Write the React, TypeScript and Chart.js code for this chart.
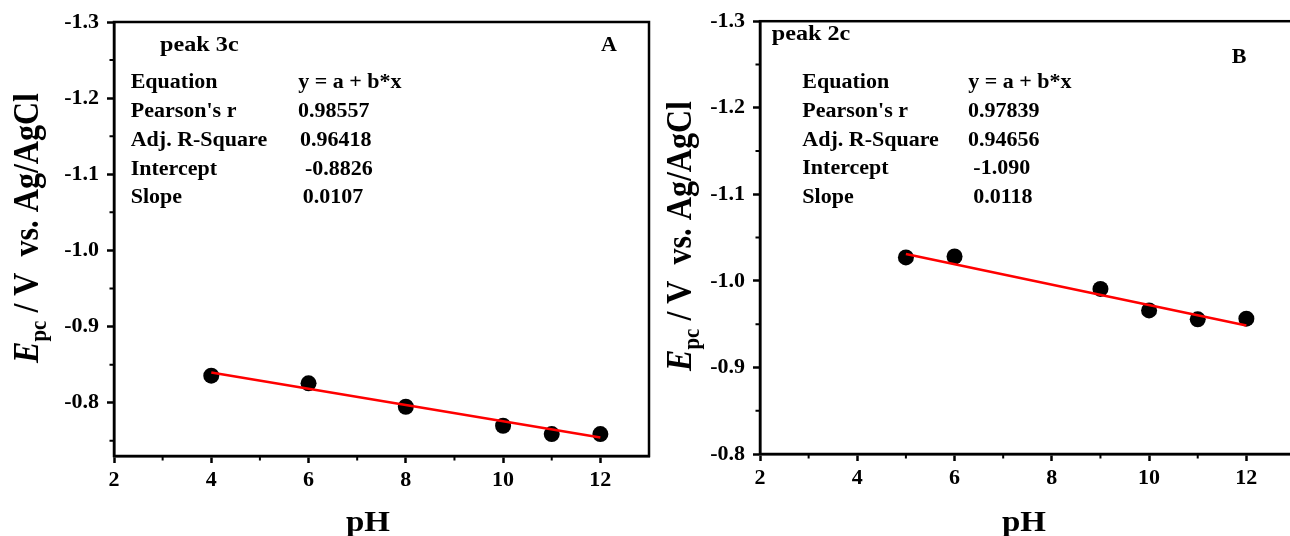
import React, { useEffect, useRef } from "react";
import { Chart, registerables } from "chart.js";

Chart.register(...registerables);

// Peak 3c (panel A): pH vs. cathodic peak potential
const phA = [4, 6, 8, 10, 11, 12];
const epcA = [-0.8355, -0.8254, -0.7947, -0.7697, -0.7588, -0.7588];
const interceptA = -0.8826;
const slopeA = 0.0107;
const fitSpanA = [4, 12];
const pearsonA = "0.98557";
const adjR2A = "0.96418";

// Peak 2c (panel B)
const phB = [5, 6, 9, 10, 11, 12];
const epcB = [-1.0271, -1.0282, -0.9907, -0.9659, -0.9556, -0.9563];
const interceptB = -1.09;
const slopeB = 0.0118;
const fitSpanB = [5, 12];
const pearsonB = "0.97839";
const adjR2B = "0.94656";

// Axis ticks
const xMajorTicks = [2, 4, 6, 8, 10, 12];
const xMinorTicks = [3, 5, 7, 9, 11];
const yMajorTicks = [-1.3, -1.2, -1.1, -1.0, -0.9, -0.8];
const yMinorTicks = [-1.25, -1.15, -1.05, -0.95, -0.85, -0.75];

const statNames = ["Equation", "Pearson's r", "Adj. R-Square", "Intercept", "Slope"];
const equationText = "y = a + b*x";

const FONT = '"Liberation Serif", "Times New Roman", serif';
const STRETCH = 1.1;
const CANVAS_H = 536;

type Txt = { text: string; x: number; y: number; size: number; align?: CanvasTextAlign };

function drawText(ctx: CanvasRenderingContext2D, t: Txt) {
  ctx.save();
  ctx.font = `bold ${t.size}px ${FONT}`;
  ctx.fillStyle = "#000";
  ctx.textAlign = t.align || "left";
  ctx.textBaseline = "alphabetic";
  ctx.translate(t.x, t.y);
  ctx.scale(STRETCH, 1);
  ctx.fillText(t.text, 0, 0);
  ctx.restore();
}

function drawYTitle(ctx: CanvasRenderingContext2D, bx: number, cy: number, size: number) {
  ctx.save();
  ctx.translate(bx, cy);
  ctx.rotate(-Math.PI / 2);
  ctx.scale(1, STRETCH);
  ctx.fillStyle = "#000";
  ctx.textBaseline = "alphabetic";
  ctx.textAlign = "left";
  const parts: [string, string, number][] = [
    ["E", `italic bold ${size}px ${FONT}`, 0],
    ["pc", `bold ${Math.round(size * 0.66)}px ${FONT}`, size * 0.24],
    [" / V  vs. Ag/AgCl", `bold ${size}px ${FONT}`, 0],
  ];
  let total = 0;
  const widths = parts.map(([t, f]) => {
    ctx.font = f;
    const w = ctx.measureText(t).width;
    total += w;
    return w;
  });
  let x = -total / 2;
  parts.forEach(([t, f, dy], i) => {
    ctx.font = f;
    ctx.fillText(t, x, dy);
    x += widths[i];
  });
  ctx.restore();
}

type PanelProps = {
  left: number;
  width: number;
  area: { left: number; top: number; right: number; bottom: number };
  yMax: number;
  ph: number[];
  epc: number[];
  intercept: number;
  slope: number;
  fitSpan: number[];
  texts: Txt[];
  yTitle: { x: number; y: number };
  xTitle: { x: number; y: number };
};

function Panel(p: PanelProps) {
  const ref = useRef<HTMLCanvasElement | null>(null);

  useEffect(() => {
    if (!ref.current) return;
    const W = p.width;
    const tickFont = { family: FONT, size: 22, weight: "bold" as const };

    const deco = {
      id: "panelDeco",
      afterDraw(chart: any) {
        const ctx: CanvasRenderingContext2D = chart.ctx;
        const { left, top, right, bottom } = chart.chartArea;
        const xs = chart.scales.x;
        const ys = chart.scales.y;
        ctx.save();
        ctx.strokeStyle = "#000";
        ctx.lineWidth = 2.5;
        ctx.strokeRect(left, top, right - left, bottom - top);
        ctx.lineWidth = 2;
        ctx.beginPath();
        xMinorTicks.forEach((v) => {
          const px = xs.getPixelForValue(v);
          ctx.moveTo(px, bottom);
          ctx.lineTo(px, bottom + 4.5);
        });
        yMinorTicks.forEach((v) => {
          if (v < ys.min || v > ys.max) return;
          const py = ys.getPixelForValue(v);
          ctx.moveTo(left, py);
          ctx.lineTo(left - 4.5, py);
        });
        ctx.stroke();
        ctx.restore();

        p.texts.forEach((t) => drawText(ctx, t));
        drawYTitle(ctx, p.yTitle.x, p.yTitle.y, 32);
        drawText(ctx, { text: "pH", x: p.xTitle.x, y: p.xTitle.y, size: 30, align: "center" });
      },
    };

    const fitData = p.fitSpan.map((x) => ({ x, y: p.intercept + p.slope * x }));
    const pts = p.ph.map((x, i) => ({ x, y: p.epc[i] }));

    const chart = new Chart(ref.current, {
      type: "scatter",
      data: {
        datasets: [
          {
            type: "line",
            data: fitData,
            borderColor: "#ff0000",
            borderWidth: 2.5,
            pointRadius: 0,
            fill: false,
            order: 0,
          } as any,
          {
            data: pts,
            backgroundColor: "#000",
            borderWidth: 0,
            pointRadius: 8,
            pointHoverRadius: 8,
            order: 1,
          },
        ],
      },
      options: {
        responsive: false,
        animation: false,
        events: [],
        layout: { padding: { left: 0, top: p.area.top, right: W - p.area.right, bottom: 0 } },
        plugins: { legend: { display: false }, tooltip: { enabled: false } },
        scales: {
          x: {
            type: "linear",
            min: 2,
            max: 13,
            afterFit: (s: any) => {
              s.height = CANVAS_H - p.area.bottom;
            },
            afterBuildTicks: (s: any) => {
              s.ticks = xMajorTicks.map((v) => ({ value: v }));
            },
            grid: {
              display: true,
              drawOnChartArea: false,
              drawTicks: true,
              tickLength: 7,
              tickWidth: 2.5,
              tickColor: "#000",
            },
            border: { display: true, width: 2.5, color: "#000" },
            ticks: {
              color: "#000",
              font: tickFont,
              padding: 4,
              autoSkip: false,
              maxRotation: 0,
              callback: (v: any) => String(v),
            },
          },
          y: {
            type: "linear",
            reverse: true,
            min: -1.3,
            max: p.yMax,
            afterFit: (s: any) => {
              s.width = p.area.left;
            },
            afterBuildTicks: (s: any) => {
              s.ticks = yMajorTicks.filter((v) => v <= p.yMax + 1e-9).map((v) => ({ value: v }));
            },
            grid: {
              display: true,
              drawOnChartArea: false,
              drawTicks: true,
              tickLength: 7,
              tickWidth: 2.5,
              tickColor: "#000",
            },
            border: { display: true, width: 2.5, color: "#000" },
            ticks: {
              color: "#000",
              font: tickFont,
              padding: 8,
              autoSkip: false,
              callback: (v: any) => Number(v).toFixed(1),
            },
          },
        },
      },
      plugins: [deco],
    });
    return () => chart.destroy();
  }, []);

  return (
    <canvas
      ref={ref}
      width={p.width}
      height={CANVAS_H}
      style={{ position: "absolute", left: p.left, top: 0, width: p.width, height: CANVAS_H }}
    />
  );
}

function statValues(pearson: string, adj: string, intercept: number, icDigits: number, slope: number) {
  return [equationText, pearson, adj, intercept.toFixed(icDigits), slope.toFixed(4)];
}

export default function App() {
  const valsA = statValues(pearsonA, adjR2A, interceptA, 4, slopeA);
  const valsB = statValues(pearsonB, adjR2B, interceptB, 3, slopeB);

  const rowsA = [88.3, 116.7, 146, 175, 203.3];
  const valXA = [298.3, 298, 300, 305, 302.7];
  const textsA: Txt[] = [
    { text: "peak 3c", x: 160, y: 50.7, size: 22 },
    { text: "A", x: 609, y: 50.7, size: 20, align: "center" },
    ...statNames.map((t, i) => ({ text: t, x: 130.7, y: rowsA[i], size: 20 })),
    ...valsA.map((t, i) => ({ text: t, x: valXA[i], y: rowsA[i], size: 20 })),
  ];

  const offB = 650;
  const rowsB = [87.7, 117.3, 146, 174, 202.7];
  const valXB = [968.3, 968, 968, 973.3, 973.3];
  const textsB: Txt[] = [
    { text: "peak 2c", x: 771.7 - offB, y: 40, size: 22 },
    { text: "B", x: 1239 - offB, y: 63.3, size: 20, align: "center" },
    ...statNames.map((t, i) => ({ text: t, x: 802.3 - offB, y: rowsB[i], size: 20 })),
    ...valsB.map((t, i) => ({ text: t, x: valXB[i] - offB, y: rowsB[i], size: 20 })),
  ];

  return (
    <div
      style={{
        position: "absolute",
        left: 0,
        top: 0,
        width: 1290,
        height: CANVAS_H,
        overflow: "hidden",
        background: "#fff",
      }}
    >
      <Panel
        left={0}
        width={660}
        area={{ left: 114, top: 22, right: 649, bottom: 456 }}
        yMax={-0.73}
        ph={phA}
        epc={epcA}
        intercept={interceptA}
        slope={slopeA}
        fitSpan={fitSpanA}
        texts={textsA}
        yTitle={{ x: 38, y: 228 }}
        xTitle={{ x: 368, y: 531 }}
      />
      <Panel
        left={offB}
        width={660}
        area={{ left: 110, top: 18, right: 645, bottom: 454 }}
        yMax={-0.8}
        ph={phB}
        epc={epcB}
        intercept={interceptB}
        slope={slopeB}
        fitSpan={fitSpanB}
        texts={textsB}
        yTitle={{ x: 691 - offB, y: 236 }}
        xTitle={{ x: 1024 - offB, y: 531 }}
      />
    </div>
  );
}
